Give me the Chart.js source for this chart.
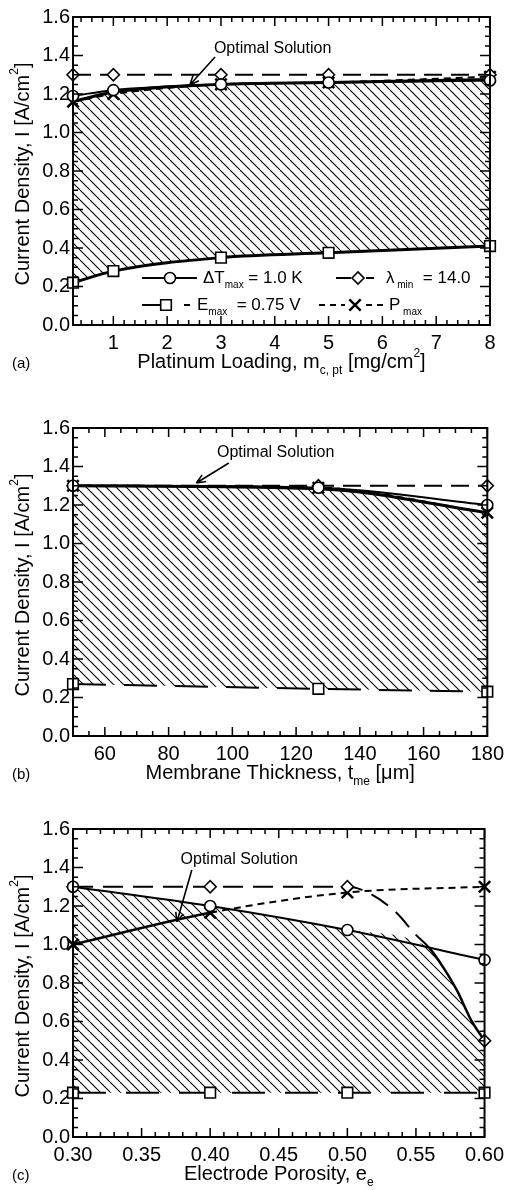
<!DOCTYPE html>
<html>
<head>
<meta charset="utf-8">
<script src="https://cdn.jsdelivr.net/npm/chart.js@4.4.1/dist/chart.umd.min.js"></script>
<style>
  html, body { margin: 0; padding: 0; background: #fff; }
  body { width: 510px; height: 1190px; position: relative; overflow: hidden; }
  canvas { position: absolute; left: 0; }
</style>
</head>
<body>
<canvas id="chart-a" width="510" height="395" style="top:0"></canvas>
<canvas id="chart-b" width="510" height="395" style="top:411px"></canvas>
<canvas id="chart-c" width="510" height="378" style="top:812px"></canvas>
<script>
// (a) platinum loading sweep [mg/cm2]
const loadingX = [0.25, 1, 3, 5, 8];
const loadingDT = [1.19, 1.22, 1.25, 1.26, 1.27];
const loadingLambda = [1.30, 1.30, 1.30, 1.30, 1.30];
const loadingP = [1.16, 1.20, 1.25, 1.26, 1.29];
const loadingE = [0.22, 0.28, 0.35, 0.375, 0.41];
const loadingOpt = [1.16, 1.21, 1.25, 1.26, 1.275];
const loadingTicks = [1, 2, 3, 4, 5, 6, 7, 8];

// (b) membrane thickness sweep [um]
const thicknessX = [50, 127, 180];
const thicknessDT = [1.30, 1.29, 1.20];
const thicknessLambda = [1.30, 1.30, 1.30];
const thicknessP = [1.30, 1.29, 1.16];
const thicknessE = [0.27, 0.245, 0.23];
const thicknessOpt = [1.30, 1.285, 1.16];
const thicknessTicks = [60, 80, 100, 120, 140, 160, 180];

// (c) electrode porosity sweep
const porosityX = [0.30, 0.40, 0.50, 0.60];
const porosityDT = [1.30, 1.20, 1.075, 0.92];
const porosityLambdaX = [0.30, 0.40, 0.50, 0.515, 0.535, 0.55, 0.56, 0.57, 0.58, 0.59, 0.60];
const porosityLambda = [1.30, 1.30, 1.30, 1.27, 1.17, 1.05, 0.98, 0.88, 0.76, 0.61, 0.50];
const porosityP = [1.00, 1.165, 1.27, 1.30];
const porosityE = [0.23, 0.23, 0.23, 0.23];
const porosityOptX = [0.30, 0.40, 0.50, 0.56, 0.57, 0.58, 0.59, 0.60];
const porosityOpt = [1.30, 1.20, 1.075, 0.98, 0.88, 0.76, 0.61, 0.50];
const porosityTicks = [0.30, 0.35, 0.40, 0.45, 0.50, 0.55, 0.60];

const currentTicks = [0.0, 0.2, 0.4, 0.6, 0.8, 1.0, 1.2, 1.4, 1.6];

const ink = '#000';
const family = '"Liberation Sans", Arial, Helvetica, sans-serif';
const markerSize = { circle: 5.5, rectRot: 6, rect: 7.5, crossRot: 8 };
const plotBottom = 325; // chart area bottom inside each canvas

// diagonal hatching for the feasible region
function hatchPattern() {
    const c = document.createElement('canvas');
    c.width = 10;
    c.height = 10;
    const g = c.getContext('2d');
    g.strokeStyle = ink;
    g.lineWidth = 1.1;
    for (const k of [-10, 0, 10]) {
        g.beginPath();
        g.moveTo(k, 0);
        g.lineTo(k + 10, 10);
        g.stroke();
    }
    return g.createPattern(c, 'repeat');
}
const hatch = hatchPattern();

function series(label, xs, ys, style, extra) {
    return Object.assign({
        label: label,
        data: xs.map((x, i) => ({ x: x, y: ys[i] })),
        borderColor: ink,
        backgroundColor: '#fff',
        borderWidth: 2,
        pointStyle: style,
        pointRadius: markerSize[style],
        pointBackgroundColor: '#fff',
        pointBorderColor: ink,
        pointBorderWidth: style === 'crossRot' ? 2.5 : 1.6,
        cubicInterpolationMode: 'monotone',
        fill: false,
        clip: false
    }, extra || {});
}

function region(xs, ys, width) {
    return {
        label: 'feasible',
        data: xs.map((x, i) => ({ x: x, y: ys[i] })),
        borderColor: width ? ink : 'transparent',
        borderWidth: width,
        pointRadius: 0,
        backgroundColor: hatch,
        cubicInterpolationMode: 'monotone',
        fill: 3,
        clip: false
    };
}

function eachTick(min, max, minor, major, fn) {
    const k0 = Math.ceil(min / minor - 1e-6);
    const k1 = Math.floor(max / minor + 1e-6);
    for (let k = k0; k <= k1; k++) {
        const v = k * minor;
        const r = v / major;
        fn(v, Math.abs(r - Math.round(r)) < 1e-6);
    }
}

// box frame with inward major/minor ticks on all four sides
const frameTicks = {
    id: 'frameTicks',
    afterDatasetsDraw(chart, args, o) {
        const { ctx, chartArea: a } = chart;
        const xs = chart.scales.x, ys = chart.scales.y;
        ctx.save();
        ctx.strokeStyle = ink;
        ctx.lineWidth = 1.5;
        ctx.beginPath();
        eachTick(xs.min, xs.max, o.xMinor, o.xMajor, (v, major) => {
            const px = xs.getPixelForValue(v);
            const len = major ? 9 : 5;
            ctx.moveTo(px, a.bottom); ctx.lineTo(px, a.bottom - len);
            ctx.moveTo(px, a.top); ctx.lineTo(px, a.top + len);
        });
        eachTick(ys.min, ys.max, o.yMinor, o.yMajor, (v, major) => {
            const py = ys.getPixelForValue(v);
            const len = major ? 10 : 5;
            ctx.moveTo(a.left, py); ctx.lineTo(a.left + len, py);
            ctx.moveTo(a.right, py); ctx.lineTo(a.right - len, py);
        });
        ctx.stroke();
        ctx.lineWidth = 2;
        ctx.strokeRect(a.left, a.top, a.right - a.left, a.bottom - a.top);
        ctx.restore();
    }
};

// text pieces with sub/superscripts
function drawRich(ctx, parts, x, y, size, align) {
    const small = Math.round(size * 0.6);
    let total = 0;
    parts.forEach(p => {
        ctx.font = (p.sub || p.sup ? small : size) + 'px ' + family;
        p.w = ctx.measureText(p.t).width;
        total += p.w;
    });
    let cx = align === 'center' ? x - total / 2 : x;
    ctx.textAlign = 'left';
    ctx.textBaseline = 'middle';
    parts.forEach(p => {
        ctx.font = (p.sub || p.sup ? small : size) + 'px ' + family;
        const dy = p.sub ? size * 0.45 : (p.sup ? -size * 0.4 : 0);
        ctx.fillText(p.t, cx, y + dy);
        cx += p.w;
    });
    return cx;
}

function arrow(ctx, x0, y0, x1, y1) {
    const ang = Math.atan2(y1 - y0, x1 - x0);
    ctx.beginPath();
    ctx.moveTo(x0, y0);
    ctx.lineTo(x1, y1);
    for (const s of [-1, 1]) {
        ctx.moveTo(x1, y1);
        ctx.lineTo(x1 - 10 * Math.cos(ang + s * 0.4), y1 - 10 * Math.sin(ang + s * 0.4));
    }
    ctx.stroke();
}

function marker(ctx, style, x, y) {
    ctx.fillStyle = '#fff';
    ctx.strokeStyle = ink;
    ctx.lineWidth = style === 'crossRot' ? 2.5 : 1.6;
    Chart.helpers.drawPoint(ctx, { pointStyle: style, radius: markerSize[style], borderWidth: ctx.lineWidth, rotation: 0 }, x, y);
}

function stroke(ctx, x0, x1, y, dash) {
    ctx.save();
    ctx.setLineDash(dash);
    ctx.strokeStyle = ink;
    ctx.lineWidth = 2;
    ctx.beginPath();
    ctx.moveTo(x0, y);
    ctx.lineTo(x1, y);
    ctx.stroke();
    ctx.restore();
}

function drawKey(ctx) {
    const r1 = 278, r2 = 305;
    stroke(ctx, 142, 197, r1, []);
    marker(ctx, 'circle', 170, r1);
    stroke(ctx, 336, 351, r1, []);
    stroke(ctx, 366, 374, r1, []);
    marker(ctx, 'rectRot', 358, r1);
    stroke(ctx, 142, 160, r2, []);
    marker(ctx, 'rect', 166, r2);
    stroke(ctx, 184, 190, r2, []);
    stroke(ctx, 319, 345, r2, [6, 5]);
    stroke(ctx, 366, 385, r2, [6, 5]);
    marker(ctx, 'crossRot', 355, r2);
    ctx.fillStyle = ink;
    drawRich(ctx, [{ t: 'ΔT' }, { t: 'max', sub: true }, { t: ' = 1.0 K' }], 203, r1, 17);
    drawRich(ctx, [{ t: 'λ' }, { t: ' min', sub: true }, { t: '  = 14.0' }], 386, r1, 17);
    drawRich(ctx, [{ t: 'E' }, { t: 'max', sub: true }, { t: '  = 0.75 V' }], 197, r2, 17);
    drawRich(ctx, [{ t: 'P' }, { t: ' max', sub: true }], 389, r2, 17);
}

// axis titles, panel letter, arrow note and key
const decor = {
    id: 'decor',
    afterDraw(chart, args, o) {
        const { ctx, chartArea: a } = chart;
        const xs = chart.scales.x, ys = chart.scales.y;
        ctx.save();
        ctx.fillStyle = ink;
        ctx.strokeStyle = ink;
        drawRich(ctx, o.xTitle, (a.left + a.right) / 2, a.bottom + 37, 20, 'center');
        ctx.save();
        ctx.translate(23, (a.top + a.bottom) / 2 + 3);
        ctx.rotate(-Math.PI / 2);
        drawRich(ctx, [{ t: 'Current Density, I [A/cm' }, { t: '2', sup: true }, { t: ']' }], 0, 0, 20, 'center');
        ctx.restore();
        ctx.font = '15px ' + family;
        ctx.textAlign = 'left';
        ctx.textBaseline = 'middle';
        ctx.fillText(o.letter, 12, a.bottom + 39);

        const n = o.note;
        ctx.font = '16px ' + family;
        ctx.textAlign = 'center';
        ctx.fillText('Optimal Solution', xs.getPixelForValue(n.tx), ys.getPixelForValue(n.ty));
        ctx.lineWidth = 1.6;
        arrow(ctx, xs.getPixelForValue(n.x0), ys.getPixelForValue(n.y0),
            xs.getPixelForValue(n.x1), ys.getPixelForValue(n.y1));
        if (o.key) drawKey(ctx);
        ctx.restore();
    }
};

function buildPanel(id, cfg) {
    return new Chart(document.getElementById(id), {
        type: 'line',
        data: { datasets: cfg.datasets },
        options: {
            responsive: false,
            animation: false,
            events: [],
            layout: { padding: { top: 17, right: 20, left: 0, bottom: 0 } },
            plugins: {
                legend: { display: false },
                tooltip: { enabled: false },
                frameTicks: cfg.frame,
                decor: cfg.decor
            },
            scales: {
                x: {
                    type: 'linear',
                    min: cfg.xMin,
                    max: cfg.xMax,
                    grid: { display: false, drawTicks: false },
                    border: { display: false },
                    afterBuildTicks: s => { s.ticks = cfg.xTicks.map(v => ({ value: v })); },
                    afterFit: s => { s.height = s.chart.height - plotBottom; },
                    ticks: {
                        color: ink,
                        font: { family: family, size: 20 },
                        padding: 6,
                        maxRotation: 0,
                        autoSkip: false,
                        callback: cfg.xFormat
                    }
                },
                y: {
                    min: 0,
                    max: 1.6,
                    grid: { display: false, drawTicks: false },
                    border: { display: false },
                    afterBuildTicks: s => { s.ticks = currentTicks.map(v => ({ value: v })); },
                    afterFit: s => { s.width = 73; },
                    ticks: {
                        color: ink,
                        font: { family: family, size: 20 },
                        padding: 3,
                        callback: v => v.toFixed(1)
                    }
                }
            }
        },
        plugins: [frameTicks, decor]
    });
}

const yFrame = { yMinor: 0.05, yMajor: 0.2 };

buildPanel('chart-a', {
    xMin: loadingX[0], xMax: 8, xTicks: loadingTicks,
    xFormat: v => String(v),
    frame: Object.assign({ xMinor: 0.2, xMajor: 1 }, yFrame),
    decor: {
        letter: '(a)', key: true,
        xTitle: [{ t: 'Platinum Loading, m' }, { t: 'c, pt', sub: true }, { t: ' [mg/cm' }, { t: '2', sup: true }, { t: ']' }],
        note: { tx: 3.96, ty: 1.434, x0: 2.89, y0: 1.392, x1: 2.42, y1: 1.247 }
    },
    datasets: [
        series('ΔTmax', loadingX, loadingDT, 'circle'),
        series('λmin', loadingX, loadingLambda, 'rectRot', { borderDash: [18, 9] }),
        series('Pmax', loadingX, loadingP, 'crossRot', { borderDash: [7, 5] }),
        series('Emax', loadingX, loadingE, 'rect', { borderWidth: 3 }),
        region(loadingX, loadingOpt, 3)
    ]
});

buildPanel('chart-b', {
    xMin: thicknessX[0], xMax: 180, xTicks: thicknessTicks,
    xFormat: v => String(v),
    frame: Object.assign({ xMinor: 5, xMajor: 20 }, yFrame),
    decor: {
        letter: '(b)',
        xTitle: [{ t: 'Membrane Thickness, t' }, { t: 'me', sub: true }, { t: ' [μm]' }],
        note: { tx: 113.6, ty: 1.47, x0: 98.9, y0: 1.418, x1: 88.7, y1: 1.314 }
    },
    datasets: [
        series('ΔTmax', thicknessX, thicknessDT, 'circle'),
        series('λmin', thicknessX, thicknessLambda, 'rectRot', { borderDash: [18, 9] }),
        series('Pmax', thicknessX, thicknessP, 'crossRot', { borderDash: [7, 5] }),
        series('Emax', thicknessX, thicknessE, 'rect', { borderDash: [33, 18] }),
        region(thicknessX, thicknessOpt, 3)
    ]
});

buildPanel('chart-c', {
    xMin: 0.30, xMax: 0.60, xTicks: porosityTicks,
    xFormat: v => v.toFixed(2),
    frame: Object.assign({ xMinor: 0.01, xMajor: 0.05 }, yFrame),
    decor: {
        letter: '(c)',
        xTitle: [{ t: 'Electrode Porosity, e' }, { t: 'e', sub: true }],
        note: { tx: 0.4212, ty: 1.439, x0: 0.3866, y0: 1.387, x1: 0.3758, y1: 1.118 }
    },
    datasets: [
        series('ΔTmax', porosityX, porosityDT, 'circle'),
        series('λmin', porosityLambdaX, porosityLambda, 'rectRot', {
            pointRadius: ctx => porosityX.includes(ctx.raw.x) ? markerSize.rectRot : 0,
            segment: {
                borderDash: ctx => ctx.p0.parsed.x >= 0.555 ? [] : [20, 10],
                borderWidth: ctx => ctx.p0.parsed.x >= 0.555 ? 2.5 : 2
            }
        }),
        series('Pmax', porosityX, porosityP, 'crossRot', {
            segment: {
                borderDash: ctx => ctx.p0.parsed.x < 0.35 ? [] : [7, 5],
                borderWidth: ctx => ctx.p0.parsed.x < 0.35 ? 2.5 : 2
            }
        }),
        series('Emax', porosityX, porosityE, 'rect', { borderDash: [33, 20] }),
        region(porosityOptX, porosityOpt, 0)
    ]
});
</script>
</body>
</html>
